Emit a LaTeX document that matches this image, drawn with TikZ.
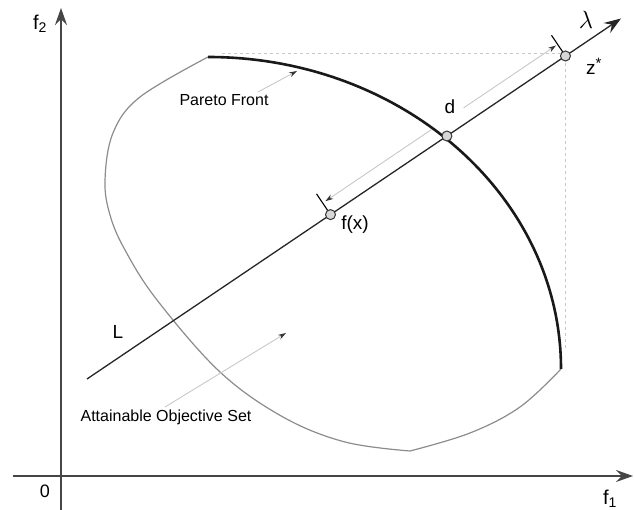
\documentclass[tikz,border=0pt]{standalone}
\usepackage{fontspec}
\setmainfont{Liberation Sans}
\usepackage{tikz}
\usetikzlibrary{positioning, arrows.meta, calc}
\definecolor{axisgray}{RGB}{70,70,70}
\definecolor{setgray}{RGB}{140,140,140}
\definecolor{guidegray}{RGB}{200,200,200}
\definecolor{dotfill}{RGB}{215,215,215}

\begin{document}
\begin{tikzpicture}[
  x=1pt, y=1pt,
  axis/.style={draw=axisgray, line width=1.6pt,
               -{Stealth[length=17pt, width=12pt, inset=6pt]}},
  lineL/.style={draw=black!85, line width=1.3pt,
                -{Stealth[length=17pt, width=12pt, inset=6pt]}},
  front/.style={draw=black!90, line width=2.6pt},
  setline/.style={draw=setgray, line width=1.2pt},
  guide/.style={draw=guidegray, line width=0.9pt, dash pattern=on 3pt off 3pt},
  dimarr/.style={draw=guidegray, line width=0.9pt,
                 -{Stealth[length=8pt, width=5pt, color=black!80]}},
  tickmark/.style={draw=black, line width=1.1pt},
  pointnode/.style={circle, draw=black!80, fill=dotfill, line width=1pt,
                    minimum size=10pt, inner sep=0pt},
  lbl/.style={font=\fontsize{19}{22}\selectfont, inner sep=1pt},
  axlbl/.style={font=\fontsize{20}{23}\selectfont, inner sep=1pt},
  note/.style={font=\fontsize{16}{19}\selectfont, inner sep=1pt},
]
  \useasboundingbox (0,0) rectangle (634,510);

  \coordinate (xstart) at (13,34);
  \coordinate (xend) at (633,34);
  \coordinate (ybot) at (61,0);
  \coordinate (ytop) at (61,502);
  \coordinate (L0) at (87,131);
  \coordinate (L1) at (621,491.5);
  \coordinate (pfx) at ($(L0)!0.456!(L1)$);
  \coordinate (pd) at ($(L0)!0.674!(L1)$);
  \coordinate (pzs) at ($(L0)!0.896!(L1)$);

  \draw[guide] (222,457) -- (565.5,457) -- (565.5,160);

  \draw[setline] plot[smooth, tension=0.6] coordinates {(208,453) (140,413)
    (113,377) (105,330) (110,295) (125,260) (157,210) (220,138) (283,93)
    (345,68) (410,59)};
  \draw[setline] plot[smooth, tension=0.6] coordinates {(410,59) (470,77)
    (520,103) (561,141)};
  \draw[front] (208,453) arc[start angle=90, end angle=0,
    x radius=353, y radius=312];

  \draw[axis] (xstart) -- (xend);
  \draw[axis] (ybot) -- (ytop);
  \draw[lineL] (L0) -- (L1);

  \coordinate (fxtick) at ($(pfx)!25pt!90:(pzs)$);
  \coordinate (zstick) at ($(pzs)!25pt!-90:(pfx)$);
  \draw[tickmark] (pfx) -- (fxtick);
  \draw[tickmark] (pzs) -- (zstick);

  \coordinate (dlowA) at ($(L0)!0.66!(L1) + (-7.8,11.6)$);
  \coordinate (dlowB) at ($(L0)!0.461!(L1) + (-7.8,11.6)$);
  \coordinate (dupA) at ($(L0)!0.72!(L1) + (-7.8,11.6)$);
  \coordinate (dupB) at ($(L0)!0.893!(L1) + (-7.8,11.6)$);
  \draw[dimarr] (dlowA) -- (dlowB);
  \draw[dimarr] (dupA) -- (dupB);

  \node[pointnode] (fx) at (pfx) {};
  \node[pointnode] (d) at (pd) {};
  \node[pointnode] (zs) at (pzs) {};

  \node[lbl] (dlbl) at (450,403) {d};
  \node[lbl] (fxlbl) at (355,285) {f(x)};
  \node[lbl] (zslbl) at (594,444) {z\textsuperscript{\fontsize{15}{15}\selectfont*}};
  \node[lbl, font=\fontsize{25}{28}\selectfont] (lambdalbl) at (586,490) {$\lambda$};
  \node[lbl] (Llbl) at (118,178.5) {L};
  \node[lbl, font=\fontsize{18}{21}\selectfont] (zero) at (45,18.5) {0};
  \node[axlbl] (f1lbl) at (610,11) {f\textsubscript{1}};
  \node[axlbl] (f2lbl) at (40,486) {f\textsubscript{2}};

  \node[note] (paretolbl) at (224,410) {Pareto Front};
  \node[note] (attlbl) at (166,93) {Attainable Objective Set};
  \coordinate (pfA) at (258,418);
  \coordinate (pfB) at (297,439);
  \coordinate (atA) at (165,103);
  \coordinate (atB) at (286,177);
  \draw[dimarr] (pfA) -- (pfB);
  \draw[dimarr] (atA) -- (atB);
\end{tikzpicture}
\end{document}
